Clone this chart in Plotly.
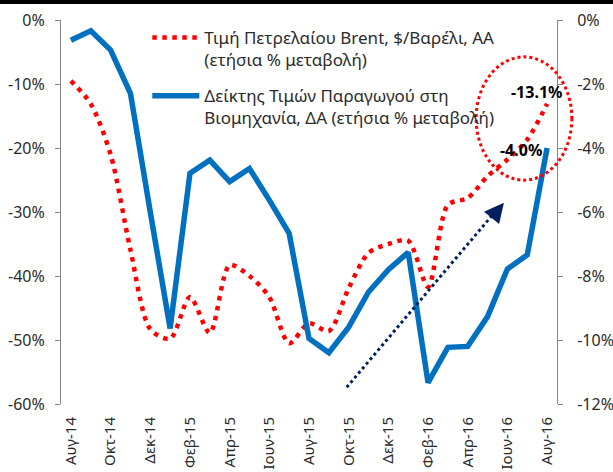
import plotly.graph_objects as go

months = ["Αυγ-14", "Σεπ-14", "Οκτ-14", "Νοε-14", "Δεκ-14", "Ιαν-15", "Φεβ-15", "Μαρ-15",
          "Απρ-15", "Μαϊ-15", "Ιουν-15", "Ιουλ-15", "Αυγ-15", "Σεπ-15", "Οκτ-15", "Νοε-15",
          "Δεκ-15", "Ιαν-16", "Φεβ-16", "Μαρ-16", "Απρ-16", "Μαϊ-16", "Ιουν-16", "Ιουλ-16", "Αυγ-16"]

brent = [-9.5, -13.1, -21.0, -35.9, -48.3, -49.8, -43.3, -48.9, -38.3, -40.0, -43.3, -50.5,
         -47.4, -48.6, -41.9, -36.4, -35.0, -34.5, -41.7, -28.9, -27.8, -24.4, -21.8, -18.7, -13.1]

ppi = [-0.63, -0.34, -0.94, -2.29, -6.0, -9.64, -4.79, -4.38, -5.05, -4.64, -5.63, -6.67,
       -9.95, -10.4, -9.6, -8.5, -7.8, -7.26, -11.33, -10.23, -10.2, -9.27, -7.78, -7.34, -4.0]

left_ticks = [0, -10, -20, -30, -40, -50, -60]
right_ticks = [0, -2, -4, -6, -8, -10, -12]

name_brent = "Τιμή Πετρελαίου Brent, $/Βαρέλι, ΑΑ<br>(ετήσια % μεταβολή)"
name_ppi = "Δείκτης Τιμών Παραγωγού στη<br>Βιομηχανία, ΔΑ (ετήσια % μεταβολή)"

FONT = "Noto Sans"
TXT = "#2b2b2b"
AX = "#868686"
FS = 16

fig = go.Figure()
fig.add_trace(go.Scatter(
    x=months, y=brent, name=name_brent, mode="lines", legendgroup="a",
    line=dict(color="#ff0000", width=4.5, dash="4.5px,5.5px", shape="spline", smoothing=0.8),
    xaxis="x", yaxis="y"))
fig.add_trace(go.Scatter(
    x=months, y=ppi, name=name_ppi, mode="lines", legendgroup="b",
    line=dict(color="#0070c0", width=5.5),
    xaxis="x", yaxis="y2"))

n = len(months)
fig.update_layout(
    width=613, height=472,
    margin=dict(l=61, r=56, t=20, b=68, autoexpand=False),
    paper_bgcolor="white", plot_bgcolor="white",
    font=dict(family=FONT, size=FS, color=TXT),
    showlegend=True,
    legend=dict(x=0.174, y=1.0, xanchor="left", yanchor="top", bgcolor="rgba(0,0,0,0)",
                font=dict(family=FONT, size=17, color=TXT), valign="top",
                itemwidth=47, tracegroupgap=11, traceorder="grouped"),
    xaxis=dict(type="category", range=[-0.5, n - 0.5], tickmode="linear", tick0=0, dtick=2,
               tickangle=-90, showline=False, ticks="", showgrid=False, zeroline=False,
               ticklabelstandoff=9,
               automargin=False, tickfont=dict(family=FONT, size=15, color=TXT)),
    xaxis2=dict(overlaying="x", side="top", anchor="y", range=[-0.5, n - 0.5], type="linear",
                tickmode="array", tickvals=[i + 1.5 for i in range(0, n - 2, 2)],
                ticks="inside", ticklen=5, tickcolor=AX, showline=True, linecolor=AX, linewidth=1,
                showticklabels=False, showgrid=False, zeroline=False, automargin=False),
    yaxis=dict(range=[-60, 0], tickvals=left_ticks, ticktext=[f"{v}%" for v in left_ticks],
               showline=True, linecolor=AX, ticks="outside", ticklen=5, tickcolor=AX,
               ticklabelstandoff=7, automargin=False,
               showgrid=False, zeroline=False, tickfont=dict(family=FONT, size=FS, color=TXT)),
    yaxis2=dict(range=[-12, 0], tickvals=right_ticks, ticktext=[f"{v}%" for v in right_ticks],
                overlaying="y", side="right", anchor="x", automargin=False,
                showline=True, linecolor=AX, ticks="outside", ticklen=5, tickcolor=AX,
                ticklabelstandoff=11,
                showgrid=False, zeroline=False, tickfont=dict(family=FONT, size=FS, color=TXT)),
)

# data labels on the last points
fig.add_annotation(x=months[-1], y=brent[-1], xref="x", yref="y", text=f"<b>{brent[-1]:.1f}%</b>",
                   showarrow=False, xshift=-10, yshift=12, font=dict(family=FONT, size=FS, color="black"))
fig.add_annotation(x=months[-1], y=ppi[-1], xref="x", yref="y2", text=f"<b>{ppi[-1]:.1f}%</b>",
                   showarrow=False, xshift=-26, yshift=-2, font=dict(family=FONT, size=FS, color="black"))

# highlight ellipse
fig.add_shape(type="circle", xref="paper", yref="paper", x0=0.837, x1=1.030, y0=0.583, y1=0.904,
              line=dict(color="#ff0000", width=3, dash="dot"))

# trend arrow (dotted shaft + head)
fig.add_shape(type="line", xref="paper", yref="paper", x0=0.576, y0=0.0435, x1=0.875, y1=0.50,
              line=dict(color="#002060", width=3, dash="dot"))
fig.add_annotation(x=0.893, y=0.524, xref="paper", yref="paper", text="", showarrow=True,
                   ax=-9, ay=11, arrowhead=2, arrowsize=1.3, arrowwidth=3, arrowcolor="#002060",
                   standoff=0)

# top black border
fig.add_shape(type="rect", xref="paper", yref="paper", x0=-0.123, x1=1.113, y0=1.0415, y1=1.06,
              fillcolor="black", line=dict(width=0), layer="above")

fig.write_html("out.html", config={"displayModeBar": False},
               post_script="document.body.style.margin='0px';")
